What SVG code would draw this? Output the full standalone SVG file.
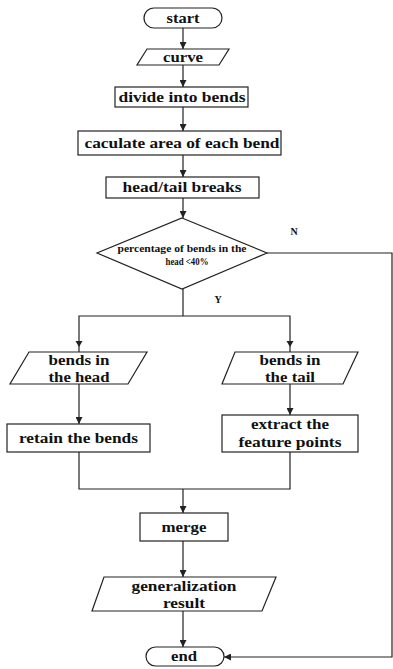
<svg xmlns="http://www.w3.org/2000/svg" width="393" height="669" viewBox="0 0 393 669">
<style>
.s{fill:#fff;stroke:#222;stroke-width:1.2}
.t{font-family:"Liberation Serif","Times New Roman",serif;font-weight:bold;font-size:15px;fill:#111;text-anchor:middle}
.sm{font-size:10px}
.c{fill:none;stroke:#222;stroke-width:1.2}
</style>
<defs>
<marker id="a" viewBox="0 0 8 8" refX="8" refY="4" markerWidth="7" markerHeight="7" markerUnits="userSpaceOnUse" orient="auto">
<path d="M0,0 L8,4 L0,8 z" fill="#222"/>
</marker>
</defs>
<rect width="393" height="669" fill="#fff"/>
<g id="connectors">
<line class="c" x1="183" y1="28" x2="183" y2="49" marker-end="url(#a)"/>
<line class="c" x1="183" y1="65" x2="183" y2="87" marker-end="url(#a)"/>
<line class="c" x1="183" y1="107" x2="183" y2="131" marker-end="url(#a)"/>
<line class="c" x1="183" y1="155" x2="183" y2="177" marker-end="url(#a)"/>
<line class="c" x1="183" y1="198" x2="183" y2="218" marker-end="url(#a)"/>
<polyline class="c" points="183,289 183,316"/>
<polyline class="c" points="79,352 79,316 290,316 290,352"/>
<path d="M79,347 l-3.5,-6 h7z M290,347 l-3.5,-6 h7z" fill="#222"/>
<line class="c" x1="79" y1="384" x2="79" y2="424" marker-end="url(#a)"/>
<line class="c" x1="290" y1="384" x2="290" y2="415" marker-end="url(#a)"/>
<polyline class="c" points="79,452 79,489 290,489 290,452"/>
<line class="c" x1="183" y1="489" x2="183" y2="513" marker-end="url(#a)"/>
<line class="c" x1="183" y1="541" x2="183" y2="577" marker-end="url(#a)"/>
<line class="c" x1="183" y1="611" x2="183" y2="647" marker-end="url(#a)"/>
<polyline class="c" points="267,253 392,253 392,657 224,657" marker-end="url(#a)"/>
<text class="t sm" x="294" y="235">N</text>
<text class="t sm" x="218" y="303">Y</text>
</g>
<g id="start">
<rect class="s" x="144" y="8" width="78" height="20" rx="10"/>
<text class="t" x="183" y="23" textLength="33" lengthAdjust="spacingAndGlyphs">start</text>
</g>
<g id="curve">
<polygon class="s" points="147,49 229,49 219,65 137,65"/>
<text class="t" x="183" y="62" textLength="40" lengthAdjust="spacingAndGlyphs">curve</text>
</g>
<g id="divide">
<rect class="s" x="115" y="87" width="133" height="20"/>
<text class="t" x="182" y="102" textLength="127" lengthAdjust="spacingAndGlyphs">divide into bends</text>
</g>
<g id="area">
<rect class="s" x="78" y="131" width="203" height="24"/>
<text class="t" x="182" y="148" textLength="195" lengthAdjust="spacingAndGlyphs">caculate area of each bend</text>
</g>
<g id="breaks">
<rect class="s" x="106" y="177" width="153" height="21"/>
<text class="t" x="182" y="192" textLength="119" lengthAdjust="spacingAndGlyphs">head/tail breaks</text>
</g>
<g id="decision">
<polygon class="s" points="182,218 267,253 182,289 97,253"/>
<text class="t sm" x="182" y="252" textLength="129" lengthAdjust="spacingAndGlyphs">percentage of bends in the</text>
<text class="t sm" x="187" y="265" textLength="43" lengthAdjust="spacingAndGlyphs">head &lt;40%</text>
</g>
<g id="head">
<polygon class="s" points="29,352 147,352 128,384 10,384"/>
<text class="t" x="79" y="365" textLength="61" lengthAdjust="spacingAndGlyphs">bends in</text>
<text class="t" x="79" y="382" textLength="61" lengthAdjust="spacingAndGlyphs">the head</text>
</g>
<g id="tail">
<polygon class="s" points="235,352 358,352 343,384 222,384"/>
<text class="t" x="290" y="365" textLength="61" lengthAdjust="spacingAndGlyphs">bends in</text>
<text class="t" x="290" y="382" textLength="50" lengthAdjust="spacingAndGlyphs">the tail</text>
</g>
<g id="retain">
<rect class="s" x="7" y="424" width="143" height="28"/>
<text class="t" x="78.5" y="443" textLength="119" lengthAdjust="spacingAndGlyphs">retain the bends</text>
</g>
<g id="extract">
<rect class="s" x="222" y="415" width="136" height="37"/>
<text class="t" x="290" y="429" textLength="78" lengthAdjust="spacingAndGlyphs">extract the</text>
<text class="t" x="290" y="447" textLength="103" lengthAdjust="spacingAndGlyphs">feature points</text>
</g>
<g id="merge">
<rect class="s" x="140" y="513" width="88" height="28"/>
<text class="t" x="184" y="532" textLength="45" lengthAdjust="spacingAndGlyphs">merge</text>
</g>
<g id="result">
<polygon class="s" points="104,577 276,577 262,611 92,611"/>
<text class="t" x="184" y="591" textLength="105" lengthAdjust="spacingAndGlyphs">generalization</text>
<text class="t" x="184" y="608" textLength="42" lengthAdjust="spacingAndGlyphs">result</text>
</g>
<g id="end">
<rect class="s" x="146" y="647" width="78" height="19" rx="9.5"/>
<text class="t" x="184" y="661" textLength="26" lengthAdjust="spacingAndGlyphs">end</text>
</g>
</svg>
